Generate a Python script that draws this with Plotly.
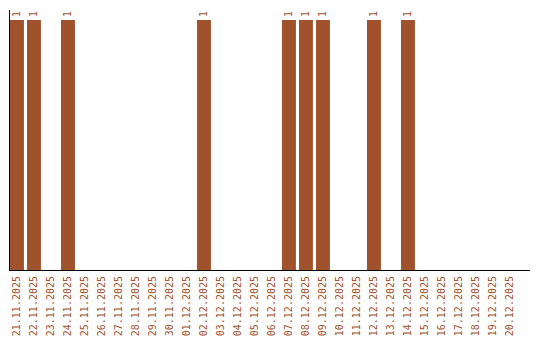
import plotly.graph_objects as go

dates = ["21.11.2025", "22.11.2025", "23.11.2025", "24.11.2025", "25.11.2025",
         "26.11.2025", "27.11.2025", "28.11.2025", "29.11.2025", "30.11.2025",
         "01.12.2025", "02.12.2025", "03.12.2025", "04.12.2025", "05.12.2025",
         "06.12.2025", "07.12.2025", "08.12.2025", "09.12.2025", "10.12.2025",
         "11.12.2025", "12.12.2025", "13.12.2025", "14.12.2025", "15.12.2025",
         "16.12.2025", "17.12.2025", "18.12.2025", "19.12.2025", "20.12.2025"]
counts = [1, 1, 0, 1, 0, 0, 0, 0, 0, 0,
          0, 1, 0, 0, 0, 0, 1, 1, 1, 0,
          0, 1, 0, 1, 0, 0, 0, 0, 0, 0]

color = "#A0522D"
labels = [str(c) if c else "" for c in counts]

fig = go.Figure(go.Bar(
    x=dates, y=counts, marker=dict(color=color, line=dict(width=0)),
    width=0.82, text=labels, textposition="outside", textangle=-90,
    textfont=dict(family="DejaVu Sans Mono", size=10, color=color),
    cliponaxis=False,
))

fig.update_layout(
    width=540, height=340,
    margin=dict(l=10, r=10, t=10, b=70),
    paper_bgcolor="white", plot_bgcolor="white",
    showlegend=False,
    xaxis=dict(type="category", range=[-0.41, 30.18], tickangle=-90,
               automargin=False, ticklabelstandoff=1,
               showline=True, linecolor="black", linewidth=1,
               ticks="", showgrid=False,
               tickfont=dict(family="DejaVu Sans Mono", size=10, color=color)),
    yaxis=dict(range=[0, 1.04], showline=True, linecolor="black", linewidth=1,
               automargin=False,
               showticklabels=False, ticks="", showgrid=False, zeroline=False),
)

fig.write_html("out.html")
